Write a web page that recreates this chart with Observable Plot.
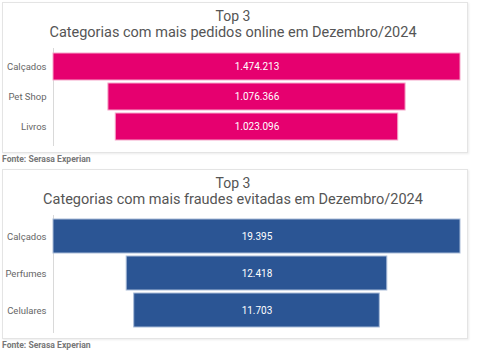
<!DOCTYPE html>
<html><head><meta charset="utf-8">
<script src="https://cdn.jsdelivr.net/npm/d3@7"></script>
<script src="https://cdn.jsdelivr.net/npm/@observablehq/plot@0.6"></script>
<style>
body{margin:0;background:#fff;font-family:Roboto,sans-serif;width:484px;height:355px;position:relative;overflow:hidden}
.panel{position:absolute;left:2px;width:466px;box-sizing:border-box;border:1px solid #e4e4e4;box-shadow:1px 1px 2px rgba(0,0,0,0.08);background:#fff}
.t{position:absolute;left:0;width:466px;text-align:center;color:#555;white-space:nowrap;line-height:1}
.src{position:absolute;left:2px;font-weight:bold;color:#777;font-size:8.6px;line-height:1}
.chart{position:absolute;left:0}
</style></head><body>
<div class="panel" style="top:2px;height:151px"></div>
<div class="t" style="top:9px;font-size:14px">Top 3</div>
<div class="t" style="top:26px;font-size:14.5px">Categorias com mais pedidos online em Dezembro/2024</div>
<div class="chart" id="c1" style="top:46px"></div>
<div class="src" style="top:155px">Fonte: Serasa Experian</div>

<div class="panel" style="top:169px;height:170px"></div>
<div class="t" style="top:176px;font-size:14px">Top 3</div>
<div class="t" style="top:193px;font-size:14.5px">Categorias com mais fraudes evitadas em Dezembro/2024</div>
<div class="chart" id="c2" style="top:212px"></div>
<div class="src" style="top:341px">Fonte: Serasa Experian</div>
<script>
const categories1 = ["Calçados", "Pet Shop", "Livros"];
const values1 = [1474213, 1076366, 1023096];
const categories2 = ["Calçados", "Perfumes", "Celulares"];
const values2 = [19395, 12418, 11703];

const fmt = v => v.toLocaleString("pt-BR");

function funnel(cats, vals, color, stroke, opts) {
  const data = cats.map((c, i) => ({cat: c, v: vals[i]}));
  const max = d3.max(vals);
  return Plot.plot({
    width: 468,
    height: opts.height,
    marginLeft: 53,
    marginRight: 8,
    marginTop: opts.mt,
    marginBottom: opts.mb,
    style: {fontFamily: "Roboto, sans-serif", background: "transparent"},
    x: {domain: [-max / 2, max / 2], axis: null},
    y: {domain: cats, padding: opts.pad, label: null, tickSize: 0, tickPadding: 7},
    marks: [
      Plot.ruleX([-max / 2], {stroke: "#d9d9d9", strokeWidth: 1, insetTop: -1, insetBottom: -2}),
      Plot.barX(data, {x1: d => -d.v / 2, x2: d => d.v / 2, y: "cat", fill: color, stroke: stroke, strokeWidth: 1}),
      Plot.text(data, {x: 0, y: "cat", text: d => fmt(d.v), fill: "white", fontSize: 10})
    ]
  });
}

const p1 = funnel(categories1, values1, "#e6006f", "#f5a6c9", {height: 102, mt: 3, mb: 4, pad: 0.09});
const p2 = funnel(categories2, values2, "#2b5594", "#a9bcd8", {height: 122, mt: 4, mb: 3, pad: 0.07});
for (const [p, id] of [[p1, "c1"], [p2, "c2"]]) {
  p.querySelectorAll("g[aria-label='y-axis tick label'] text, g[aria-label='y-axis'] text").forEach(t => {
    t.setAttribute("fill", "#666");
  });
  p.style.fontSize = "9.5px";
  document.getElementById(id).appendChild(p);
}
</script>
</body></html>
